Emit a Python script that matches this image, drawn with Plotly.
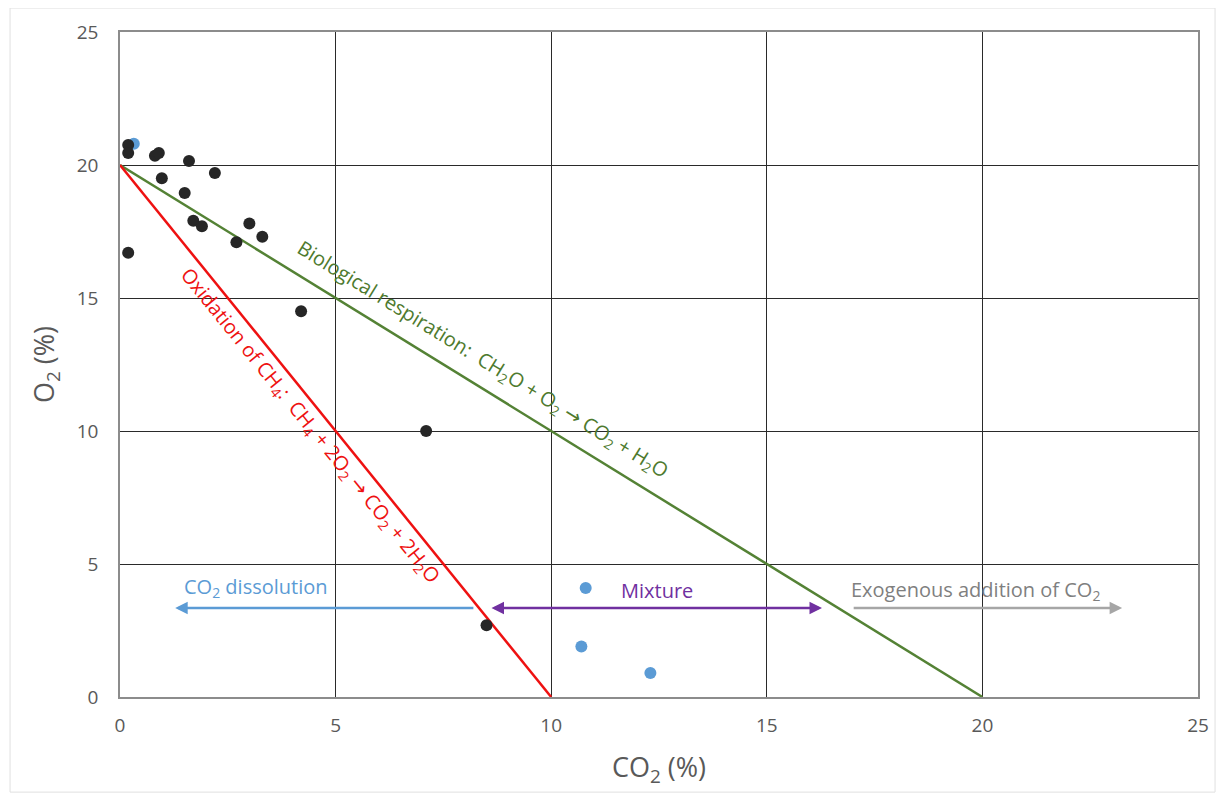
import plotly.graph_objects as go

# Data
black_co2 = [0.19, 0.19, 0.81, 0.90, 1.60, 2.20, 0.97, 1.50, 1.70, 1.90, 3.00, 3.30, 2.70, 0.19, 4.20, 7.10, 8.50]
black_o2 = [20.75, 20.45, 20.35, 20.45, 20.15, 19.70, 19.50, 18.95, 17.90, 17.70, 17.80, 17.30, 17.10, 16.70, 14.50, 10.00, 2.70]
blue_co2 = [0.32, 10.80, 10.70, 12.30]
blue_o2 = [20.80, 4.10, 1.90, 0.90]
resp_co2 = [0, 20]
resp_o2 = [20, 0]
oxid_co2 = [0, 10]
oxid_o2 = [20, 0]
ticks = [0, 5, 10, 15, 20, 25]

FONT = "Open Sans"
ARROW = '<span style="font-family:DejaVu Sans">→</span>'
fig = go.Figure()
fig.add_trace(go.Scatter(x=resp_co2, y=resp_o2, mode="lines",
                         line=dict(color="#548235", width=2.5), showlegend=False))
fig.add_trace(go.Scatter(x=oxid_co2, y=oxid_o2, mode="lines",
                         line=dict(color="#EE1111", width=2.5), showlegend=False))
fig.add_trace(go.Scatter(x=blue_co2, y=blue_o2, mode="markers",
                         marker=dict(color="#5B9BD5", size=12), showlegend=False))
fig.add_trace(go.Scatter(x=black_co2, y=black_o2, mode="markers",
                         marker=dict(color="#262626", size=12), showlegend=False))

# Arrows
arrow_y = 3.35
fig.add_annotation(x=1.28, y=arrow_y, ax=8.23, ay=arrow_y, xref="x", yref="y",
                   axref="x", ayref="y", text="", showarrow=True,
                   arrowhead=2, arrowsize=1, arrowwidth=2.5, arrowcolor="#5B9BD5")
fig.add_annotation(x=16.28, y=arrow_y, ax=8.58, ay=arrow_y, xref="x", yref="y",
                   axref="x", ayref="y", text="", showarrow=True, arrowside="end+start",
                   arrowhead=2, arrowsize=1, arrowwidth=2.5, arrowcolor="#7030A0")
fig.add_annotation(x=23.24, y=arrow_y, ax=16.98, ay=arrow_y, xref="x", yref="y",
                   axref="x", ayref="y", text="", showarrow=True,
                   arrowhead=2, arrowsize=1, arrowwidth=2.5, arrowcolor="#A6A6A6")

fig.add_annotation(x=3.15, y=4.1, text="CO<sub>2</sub> dissolution", showarrow=False,
                   font=dict(family=FONT, size=20, color="#5B9BD5"))
fig.add_annotation(x=12.45, y=4.0, text="Mixture", showarrow=False,
                   font=dict(family=FONT, size=20, color="#7030A0"))
fig.add_annotation(x=19.85, y=4.0, text="Exogenous addition of CO<sub>2</sub>", showarrow=False,
                   font=dict(family=FONT, size=20, color="#7F7F7F"))

fig.add_annotation(x=4.4, y=10.2,
                   text="Oxidation of CH<sub>4</sub>:  CH<sub>4</sub> + 2O<sub>2</sub> " + ARROW + " CO<sub>2</sub> + 2H<sub>2</sub>O",
                   showarrow=False, textangle=51,
                   font=dict(family=FONT, size=20, color="#EE1111"))
fig.add_annotation(x=8.4, y=12.68,
                   text="Biological respiration:  CH<sub>2</sub>O + O<sub>2</sub> " + ARROW + " CO<sub>2</sub> + H<sub>2</sub>O",
                   showarrow=False, textangle=31.7,
                   font=dict(family=FONT, size=20, color="#4E7A2E"))

# faint outer border
fig.add_shape(type="rect", xref="paper", yref="paper",
              x0=-0.102, x1=1.0158, y0=-0.143, y1=1.036,
              line=dict(color="#E0E0E0", width=1), layer="below")

axis_common = dict(range=[0, 25], tickvals=ticks, showgrid=True, gridcolor="#2a2a2a",
                   gridwidth=1, zeroline=False, showline=True, linecolor="#8c8c8c",
                   linewidth=1.5, mirror=True, ticks="outside", tickcolor="rgba(0,0,0,0)",
                   tickfont=dict(family=FONT, size=19, color="#595959"))
fig.update_xaxes(**axis_common, ticklen=10,
                 title=dict(text="CO<sub>2</sub> (%)", standoff=22,
                            font=dict(family=FONT, size=27, color="#595959")))
fig.update_yaxes(**axis_common, ticklen=16,
                 title=dict(text="O<sub>2</sub> (%)", standoff=14,
                            font=dict(family=FONT, size=27, color="#595959")))
fig.update_layout(width=1225, height=800, plot_bgcolor="white", paper_bgcolor="white",
                  margin=dict(l=112, r=35, t=24, b=111), showlegend=False)
fig.write_html("out.html")
